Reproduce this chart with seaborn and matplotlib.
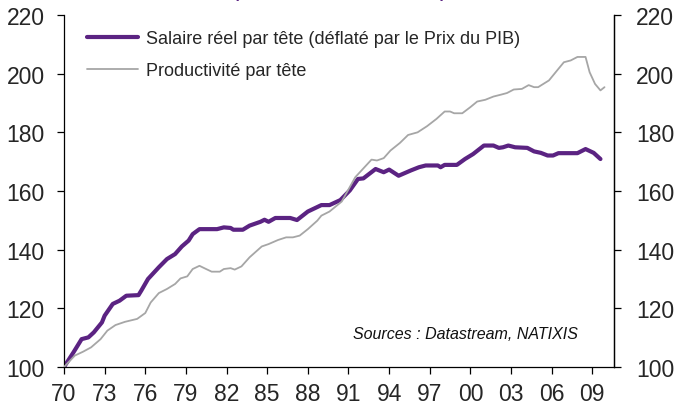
import matplotlib
matplotlib.use("Agg")
import matplotlib.pyplot as plt
import seaborn as sns
import pandas as pd

# ---- data ----
salaire_years = [1970.0, 1970.7, 1971.3, 1971.8, 1972.2, 1972.8, 1973.0, 1973.6, 1974.1, 1974.6,
                 1975.5, 1975.7, 1976.2, 1977.0, 1977.6, 1978.2, 1978.7, 1979.2, 1979.5, 1980.0,
                 1981.3, 1981.8, 1982.3, 1982.5, 1983.2, 1983.7, 1984.5, 1984.8, 1985.1, 1985.6,
                 1986.7, 1987.2, 1988.0, 1989.0, 1989.6, 1990.4, 1991.1, 1991.7, 1992.1, 1993.0,
                 1993.6, 1994.0, 1994.7, 1995.6, 1996.2, 1996.7, 1997.6, 1997.8, 1998.1, 1999.0,
                 1999.6, 2000.2, 2001.0, 2001.7, 2002.1, 2002.4, 2002.8, 2003.3, 2004.2, 2004.7,
                 2005.2, 2005.7, 2006.1, 2006.5, 2007.9, 2008.5, 2009.1, 2009.6]
salaire_values = [100.0, 105.0, 109.5, 110.1, 111.8, 115.2, 117.5, 121.5, 122.6, 124.3,
                  124.5, 126.0, 130.0, 134.0, 136.8, 138.5, 141.1, 143.1, 145.3, 147.0,
                  147.0, 147.6, 147.4, 146.8, 146.8, 148.2, 149.5, 150.2, 149.5, 150.8,
                  150.8, 150.1, 153.0, 155.2, 155.2, 156.9, 160.2, 164.1, 164.3, 167.5,
                  166.4, 167.3, 165.2, 167.0, 168.1, 168.7, 168.7, 168.1, 168.9, 168.9,
                  170.9, 172.6, 175.5, 175.5, 174.7, 174.9, 175.5, 174.9, 174.7, 173.5,
                  173.0, 172.1, 172.1, 172.9, 172.9, 174.3, 173.0, 170.9]

prod_years = [1970.0, 1970.8, 1971.4, 1972.0, 1972.7, 1973.2, 1973.8, 1974.5, 1975.4, 1976.0,
              1976.4, 1977.0, 1977.6, 1978.2, 1978.6, 1979.1, 1979.5, 1980.0, 1980.4, 1980.9,
              1981.5, 1981.8, 1982.3, 1982.6, 1983.1, 1983.7, 1984.6, 1985.1, 1985.8, 1986.4,
              1986.9, 1987.4, 1988.0, 1988.7, 1989.0, 1989.6, 1990.5, 1991.5, 1992.1, 1992.7,
              1993.1, 1993.6, 1994.1, 1994.8, 1995.4, 1996.1, 1996.8, 1997.5, 1998.1, 1998.5,
              1998.8, 1999.4, 2000.0, 2000.5, 2001.1, 2001.7, 2002.3, 2002.7, 2003.2, 2003.8,
              2004.3, 2004.7, 2005.0, 2005.8, 2006.4, 2006.9, 2007.4, 2007.9, 2008.5, 2008.8,
              2009.2, 2009.6, 2009.9]
prod_values = [100.0, 103.9, 105.2, 106.7, 109.5, 112.4, 114.3, 115.4, 116.4, 118.4,
               122.0, 125.2, 126.6, 128.3, 130.2, 130.9, 133.4, 134.5, 133.6, 132.5,
               132.5, 133.4, 133.7, 133.2, 134.3, 137.4, 141.1, 141.9, 143.3, 144.2,
               144.2, 144.8, 147.0, 149.9, 151.6, 153.0, 156.4, 164.7, 167.7, 170.7,
               170.4, 171.2, 173.8, 176.4, 179.1, 180.0, 182.1, 184.6, 187.1, 187.1,
               186.5, 186.5, 188.6, 190.5, 191.1, 192.2, 192.9, 193.4, 194.6, 194.8,
               196.1, 195.4, 195.4, 197.7, 201.1, 203.9, 204.5, 205.7, 205.7, 200.5,
               196.5, 194.3, 195.4]

label_salaire = "Salaire réel par tête (déflaté par le Prix du PIB)"
label_prod = "Productivité par tête"
xtick_years = [1970, 1973, 1976, 1979, 1982, 1985, 1988, 1991, 1994, 1997, 2000, 2003, 2006, 2009]
xtick_labels = ["70", "73", "76", "79", "82", "85", "88", "91", "94", "97", "00", "03", "06", "09"]
yticks = [100, 120, 140, 160, 180, 200, 220]
source_text = "Sources : Datastream, NATIXIS"
title_text = "(base 100 en 1970)"

PURPLE = "#5B2382"
GRAY = "#A6A6A6"

sns.set_style("white")
plt.rcParams["font.family"] = ["Liberation Sans", "DejaVu Sans"]

df_s = pd.DataFrame({"year": salaire_years, "value": salaire_values})
df_p = pd.DataFrame({"year": prod_years, "value": prod_values})

fig = plt.figure(figsize=(6.83, 4.10), dpi=100)
ax = fig.add_axes([64 / 683, 42 / 410, 550 / 683, 352 / 410])

sns.lineplot(data=df_s, x="year", y="value", ax=ax, color=PURPLE, linewidth=3.0,
             label=label_salaire, zorder=2)
sns.lineplot(data=df_p, x="year", y="value", ax=ax, color=GRAY, linewidth=1.3,
             label=label_prod, zorder=3)

ax.set_xlim(1970, 2010.6)
ax.set_ylim(100, 220)
ax.set_xticks(xtick_years)
ax.set_xticklabels(xtick_labels)
ax.set_yticks(yticks)
ax.set_xlabel("")
ax.set_ylabel("")

ax.spines["top"].set_visible(False)
for side in ["left", "bottom", "right"]:
    ax.spines[side].set_visible(True)
    ax.spines[side].set_color("black")
    ax.spines[side].set_linewidth(0.9)

ax.tick_params(axis="both", which="major", direction="out", length=5, width=0.9,
               color="black", labelsize=16.5, pad=9)
ax.tick_params(axis="x", pad=6, bottom=True)
ax.tick_params(axis="y", left=True, pad=9)

ax2 = ax.twinx()
ax2.set_ylim(100, 220)
ax2.set_yticks(yticks)
ax2.spines["top"].set_visible(False)
ax2.spines["left"].set_visible(False)
ax2.spines["bottom"].set_visible(False)
ax2.spines["right"].set_visible(True)
ax2.spines["right"].set_color("black")
ax2.spines["right"].set_linewidth(0.9)
ax2.tick_params(axis="y", direction="out", length=5, width=0.9, color="black",
                labelsize=16.5, pad=11, right=True)

leg = ax.legend(loc="upper left", bbox_to_anchor=(87 / 683, 1 - 31 / 410),
                bbox_transform=fig.transFigure, frameon=False, fontsize=13,
                handlelength=2.8, handletextpad=0.45, labelspacing=0.85,
                borderaxespad=0, borderpad=0)

fig.text(353 / 683, 1 - 335 / 410, source_text, style="italic",
         fontsize=11.5, va="center", ha="left", color="#111111")

# title of the original, cut off by the top edge (only the parentheses' tails show)
fig.text(340 / 683, 1 + 4 / 410, title_text, color=PURPLE, fontsize=18,
         ha="center", va="baseline")

fig.savefig("out.png", dpi=100)
